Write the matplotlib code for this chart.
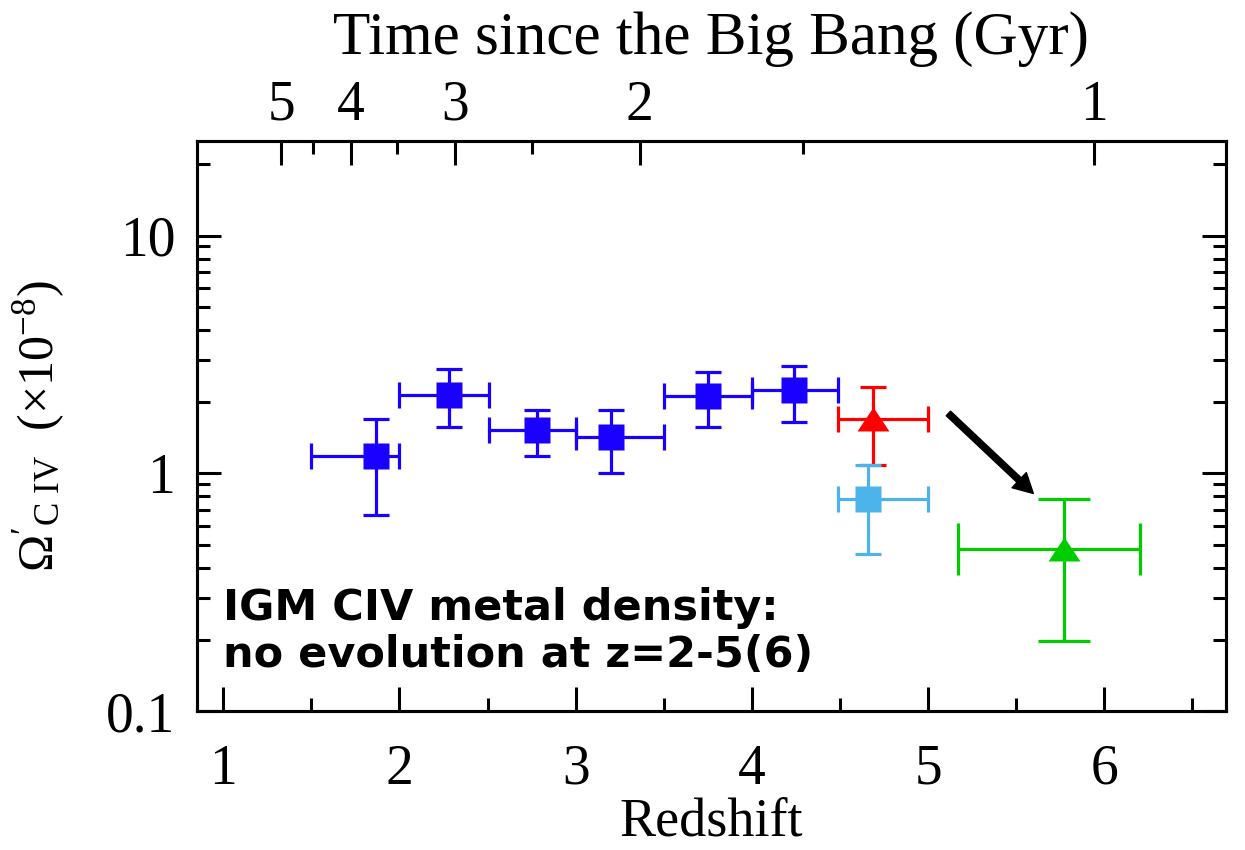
import numpy as np
import matplotlib
matplotlib.use("Agg")
import matplotlib.pyplot as plt
from matplotlib.ticker import FixedLocator, NullFormatter, LogLocator

plt.rcParams['font.family'] = 'Liberation Serif'
plt.rcParams['mathtext.fontset'] = 'custom'
plt.rcParams['mathtext.rm'] = 'Liberation Serif'
plt.rcParams['mathtext.it'] = 'Liberation Serif:italic'

# C IV mass density per redshift bin (units of 1e-8)
z_blue = [1.87, 2.28, 2.78, 3.20, 3.75, 4.24]
z_blue_lo = [1.50, 2.00, 2.51, 3.00, 3.50, 4.00]
z_blue_hi = [2.00, 2.51, 3.00, 3.50, 4.00, 4.49]
om_blue = [1.18, 2.14, 1.52, 1.42, 2.12, 2.24]
om_blue_lo = [0.67, 1.56, 1.18, 1.00, 1.56, 1.65]
om_blue_hi = [1.70, 2.74, 1.84, 1.84, 2.66, 2.82]

z_red, z_red_lo, z_red_hi = [4.69], [4.49], [5.00]
om_red, om_red_lo, om_red_hi = [1.70], [1.08], [2.31]

z_cyan, z_cyan_lo, z_cyan_hi = [4.66], [4.49], [5.00]
om_cyan, om_cyan_lo, om_cyan_hi = [0.78], [0.46], [1.08]

z_green, z_green_lo, z_green_hi = [5.77], [5.17], [6.20]
om_green, om_green_lo, om_green_hi = [0.48], [0.197], [0.78]

# arrow from z~5 to z~6
arrow_from = (5.115, 1.786)
arrow_to = (5.597, 0.823)

age_major = [5, 4, 3, 2, 1]
age_minor = [4.5, 3.5, 2.5, 1.5]


def z_of_age(t, h=0.65, om=0.3):
    ol = 1.0 - om
    pref = 9.778 / h * 2.0 / (3.0 * np.sqrt(ol))
    x = np.sinh(np.asarray(t, float) / pref) / np.sqrt(ol / om)
    return x ** (-2.0 / 3.0) - 1.0


def errs(v, lo, hi):
    v = np.asarray(v)
    return [v - np.asarray(lo), np.asarray(hi) - v]


tri = [(-1.0, -0.75), (1.0, -0.75), (0.0, 0.75)]

fig = plt.figure(figsize=(12.45, 8.5), dpi=100)
ax = fig.add_axes([0.158, 0.1633, 0.8267, 0.6712])


def draw(z, zlo, zhi, om, omlo, omhi, color, marker, ms, cap):
    ax.errorbar(z, om, xerr=errs(z, zlo, zhi), yerr=errs(om, omlo, omhi),
                fmt='none', ecolor=color, elinewidth=2.3, capsize=cap,
                capthick=2.3, zorder=2)
    ax.plot(z, om, linestyle='none', marker=marker, ms=ms, color=color,
            mec='none', zorder=3)


draw(z_blue, z_blue_lo, z_blue_hi, om_blue, om_blue_lo, om_blue_hi,
     '#1a00ff', 's', 18.5, 9.3)
draw(z_red, z_red_lo, z_red_hi, om_red, om_red_lo, om_red_hi,
     '#ff0000', tri, 23, 9.3)
draw(z_cyan, z_cyan_lo, z_cyan_hi, om_cyan, om_cyan_lo, om_cyan_hi,
     '#4db3eb', 's', 18.5, 9.3)
draw(z_green, z_green_lo, z_green_hi, om_green, om_green_lo, om_green_hi,
     '#00cc00', tri, 23, 18.7)

ax.annotate('', xy=arrow_to, xytext=arrow_from,
            arrowprops=dict(color='black', width=4.5, headwidth=15,
                            headlength=14, shrink=0))

ax.set_yscale('log')
ax.set_xlim(0.85, 6.69)
ax.set_ylim(0.1, 25.05)

ax.xaxis.set_major_locator(FixedLocator([1, 2, 3, 4, 5, 6]))
ax.xaxis.set_minor_locator(FixedLocator([1.5, 2.5, 3.5, 4.5, 5.5, 6.5]))
ax.yaxis.set_major_locator(FixedLocator([0.1, 1, 10]))
ax.yaxis.set_minor_locator(LogLocator(base=10, subs=np.arange(2, 10)))
ax.yaxis.set_minor_formatter(NullFormatter())
ax.set_yticklabels(['0.1', '1', '10'])

ax.tick_params(which='both', direction='in', width=2.2, top=False,
               right=True, labelsize=40, colors='black')
ax.tick_params(which='major', length=17)
ax.tick_params(which='minor', length=9.5)
ax.tick_params(axis='x', pad=23.5)
ax.tick_params(axis='y', pad=15.5)
for s in ax.spines.values():
    s.set_linewidth(2.2)

ax.set_xlabel('Redshift', fontsize=39, labelpad=1)
ax.set_ylabel(r"$\Omega'_{\rm C\ IV}$  $(\times 10^{-8})$", fontsize=36,
              labelpad=28)

# age of the universe along the top
top = ax.twiny()
top.set_xlim(ax.get_xlim())
top.xaxis.set_major_locator(FixedLocator(z_of_age(age_major)))
top.xaxis.set_minor_locator(FixedLocator(z_of_age(age_minor)))
top.set_xticklabels([str(a) for a in age_major])
top.tick_params(which='both', direction='in', width=2.2, labelsize=40,
                pad=6.3)
top.tick_params(which='major', length=17)
top.tick_params(which='minor', length=9.5)
top.set_xlabel('Time since the Big Bang (Gyr)', fontsize=44, labelpad=19)
for s in top.spines.values():
    s.set_linewidth(2.2)

ax.text(1.0, 0.153, 'IGM CIV metal density:\nno evolution at z=2-5(6)',
        fontsize=31, fontweight='bold', family='DejaVu Sans',
        linespacing=1.15, va='baseline', ha='left')

fig.savefig('out.png', dpi=100)
